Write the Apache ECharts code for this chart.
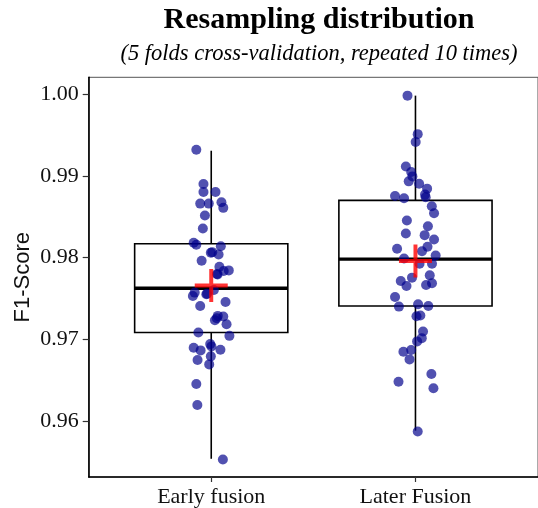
<!DOCTYPE html>
<html>
<head>
<meta charset="utf-8">
<script src="https://cdn.jsdelivr.net/npm/echarts@6/dist/echarts.min.js"></script>
<style>
  html, body { margin: 0; padding: 0; background: #fff; }
  #chart { width: 538px; height: 508px; }
</style>
</head>
<body>
<div id="chart"></div>
<script>
// groups
const groups = ['Early fusion', 'Later Fusion']
const yTicks = [0.96, 0.97, 0.98, 0.99, 1.00]

// box summary: [lower whisker, Q1, median, Q3, upper whisker]
const boxStats = [
  [0.9554, 0.97085, 0.97626, 0.98171, 0.99309],
  [0.95885, 0.97410, 0.97983, 0.98702, 0.99983]
]
const means = [0.97660, 0.97959]

// resampled F1 scores + horizontal jitter (category units)
const earlyScores = [0.99321, 0.98902, 0.98805, 0.98805, 0.98662, 0.98662, 0.98678, 0.98610, 0.98516, 0.98357,
  0.98183, 0.98159, 0.98141, 0.98061, 0.98040, 0.97963, 0.97890, 0.97845, 0.97837, 0.97796,
  0.97605, 0.97573, 0.97532, 0.97552, 0.97410, 0.97459, 0.97288, 0.97280, 0.97235, 0.97187,
  0.97085, 0.97044, 0.96943, 0.96898, 0.96866, 0.96873, 0.96915, 0.96748, 0.96793, 0.96695,
  0.96455, 0.96199, 0.95532, 0.98068, 0.97260, 0.97560, 0.97800]
const earlyJitter = [-0.073, -0.038, -0.038, 0.021, -0.054, -0.012, 0.050, 0.059, -0.031, -0.041,
  -0.086, -0.073, 0.047, -0.002, 0.036, -0.047, 0.040, 0.086, 0.061, 0.031,
  0.013, -0.081, -0.090, -0.024, -0.054, 0.070, 0.032, 0.059, 0.018, 0.075,
  -0.063, 0.089, -0.005, -0.086, -0.052, 0.045, 0.001, -0.067, -0.002, -0.010,
  -0.073, -0.068, 0.057, 0.005, 0.027, -0.020, 0.028]
const laterScores = [0.99983, 0.99512, 0.99415, 0.99117, 0.99049, 0.98995, 0.98934, 0.98906, 0.98845, 0.98772,
  0.98739, 0.98756, 0.98727, 0.98629, 0.98544, 0.98455, 0.98385, 0.98296, 0.98276, 0.98223,
  0.98134, 0.98110, 0.98080, 0.98028, 0.97991, 0.97927, 0.97927, 0.97756, 0.97784, 0.97715,
  0.97654, 0.97666, 0.97687, 0.97520, 0.97402, 0.97430, 0.97410, 0.97284, 0.97293, 0.97098,
  0.97016, 0.96976, 0.96849, 0.96870, 0.96756, 0.96577, 0.96483, 0.96402, 0.95873]
const laterJitter = [-0.039, 0.011, 0.001, -0.047, -0.021, -0.015, -0.033, 0.018, 0.057, 0.047,
  0.050, -0.100, -0.056, 0.080, 0.091, -0.042, 0.061, -0.047, 0.045, 0.091,
  0.059, -0.090, 0.032, 0.099, -0.056, 0.020, 0.081, -0.017, 0.070, -0.072,
  -0.044, 0.052, 0.081, -0.100, -0.081, 0.013, 0.063, 0.005, 0.024, 0.037,
  0.031, 0.008, -0.059, -0.021, -0.029, 0.078, -0.083, 0.088, 0.011]

const serif = '"Liberation Serif", "DejaVu Serif", serif'
const boxWidth = 0.75

const points = []
earlyScores.forEach((v, i) => points.push([1 + earlyJitter[i], v]))
laterScores.forEach((v, i) => points.push([2 + laterJitter[i], v]))

const chart = echarts.init(document.getElementById('chart'))
chart.setOption({
  animation: false,
  title: [
    {
      text: 'Resampling distribution',
      left: 314, top: 0, textAlign: 'center',
      textStyle: { fontFamily: serif, fontWeight: 'bold', fontSize: 30, color: '#000' }
    },
    {
      text: '(5 folds cross-validation, repeated 10 times)',
      left: 314, top: 38, textAlign: 'center',
      textStyle: { fontFamily: serif, fontStyle: 'italic', fontWeight: 'normal', fontSize: 22.5, color: '#000' }
    }
  ],
  grid: {
    left: 88.7, top: 77.3, bottom: 29.7, right: -2,
    show: true, borderColor: '#555', borderWidth: 1, backgroundColor: '#fff'
  },
  xAxis: {
    type: 'value', min: 0.4, max: 2.6,
    splitLine: { show: false },
    axisLine: { show: true, onZero: false, lineStyle: { color: '#000', width: 1.6 } },
    axisTick: { show: true, length: 5, customValues: [1, 2], lineStyle: { color: '#333', width: 1.2 } },
    axisLabel: {
      customValues: [1, 2], margin: 9,
      fontFamily: serif, fontSize: 22, color: '#111',
      formatter: v => groups[Math.round(v) - 1]
    }
  },
  yAxis: {
    type: 'value', min: 0.953171, max: 1.002073,
    name: 'F1-Score', nameLocation: 'middle', nameGap: 55, nameMoveOverlap: false,
    nameTextStyle: { fontFamily: '"Liberation Sans", Arial, sans-serif', fontSize: 22, color: '#111' },
    splitLine: { show: false },
    axisLine: { show: true, onZero: false, lineStyle: { color: '#000', width: 1.6 } },
    axisTick: { show: true, length: 6, customValues: yTicks, lineStyle: { color: '#333', width: 1.2 } },
    axisLabel: {
      customValues: yTicks, margin: 10,
      fontFamily: serif, fontSize: 22, color: '#111',
      formatter: v => v.toFixed(2)
    }
  },
  series: [
    {
      type: 'custom',
      data: boxStats.map((s, i) => [i + 1].concat(s)),
      renderItem: (params, api) => {
        const x = api.value(0)
        const lo = api.coord([x, api.value(1)])
        const q1 = api.coord([x - boxWidth / 2, api.value(2)])
        const med = api.value(3)
        const q3 = api.coord([x + boxWidth / 2, api.value(4)])
        const hi = api.coord([x, api.value(5)])
        const mL = api.coord([x - boxWidth / 2, med])
        const mR = api.coord([x + boxWidth / 2, med])
        const line = { stroke: '#000', lineWidth: 1.6 }
        return {
          type: 'group',
          children: [
            { type: 'line', shape: { x1: lo[0], y1: lo[1], x2: lo[0], y2: q1[1] }, style: line },
            { type: 'line', shape: { x1: hi[0], y1: hi[1], x2: hi[0], y2: q3[1] }, style: line },
            { type: 'rect', shape: { x: q1[0], y: q3[1], width: q3[0] - q1[0], height: q1[1] - q3[1] },
              style: { fill: '#fff', stroke: '#000', lineWidth: 1.6 } },
            { type: 'line', shape: { x1: mL[0], y1: mL[1], x2: mR[0], y2: mR[1] },
              style: { stroke: '#000', lineWidth: 3.4 } }
          ]
        }
      }
    },
    {
      type: 'scatter',
      data: points,
      symbolSize: 10,
      itemStyle: { color: 'rgba(0,0,139,0.85)' },
      z: 3
    },
    {
      type: 'scatter',
      data: means.map((m, i) => [i + 1, m]),
      symbol: 'path://M0,44H100V56H0Z M44,0H56V100H44Z',
      symbolSize: 33,
      itemStyle: { color: '#ff0000' },
      z: 4
    }
  ]
})
</script>
</body>
</html>
